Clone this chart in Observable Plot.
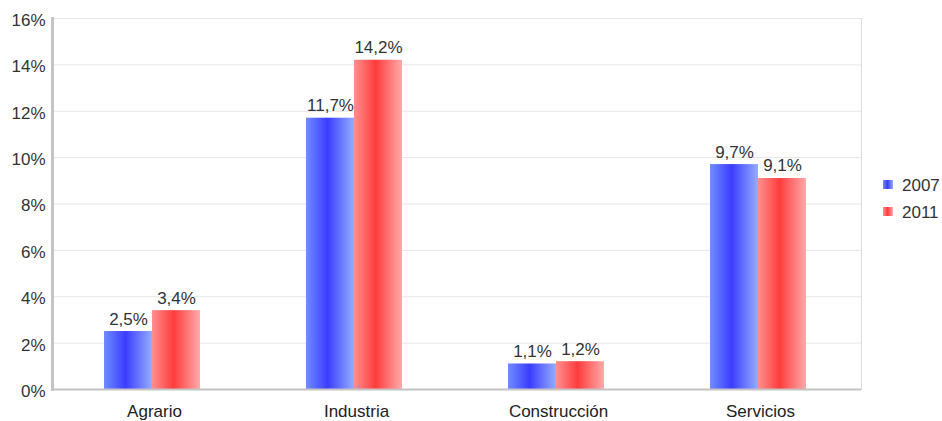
<!DOCTYPE html>
<html>
<head>
<meta charset="utf-8">
<script src="https://cdn.jsdelivr.net/npm/d3@7"></script>
<script src="https://cdn.jsdelivr.net/npm/@observablehq/plot@0.6"></script>
<style>
  html, body { margin: 0; padding: 0; background: #fff; }
  #chart { position: relative; width: 942px; height: 421px; }
</style>
</head>
<body>
<div id="chart"></div>
<script>
const categories = ["Agrario", "Industria", "Construcción", "Servicios"];
const years = ["2007", "2011"];
const values2007 = [2.5, 11.7, 1.1, 9.7];
const values2011 = [3.4, 14.2, 1.2, 9.1];
const yTicks = [0, 2, 4, 6, 8, 10, 12, 14, 16];

const gradIds = {"2007": "grad2007", "2011": "grad2011"};
const rows = [];
categories.forEach((c, i) => {
  rows.push({category: c, year: "2007", value: values2007[i]});
  rows.push({category: c, year: "2011", value: values2011[i]});
});
const fmt = v => String(v.toFixed(1)).replace(".", ",") + "%";
const r07 = rows.filter(d => d.year === "2007");
const r11 = rows.filter(d => d.year === "2011");

const chart = Plot.plot({
  width: 942,
  height: 421,
  marginLeft: 52,
  marginRight: 81,
  marginTop: 18,
  marginBottom: 32,
  style: {fontFamily: "'Liberation Sans', Arial, sans-serif", fontSize: "17px", color: "#333", background: "#fff"},
  x: {domain: categories, paddingInner: 0, paddingOuter: 0, label: null},
  y: {domain: [0, 16], label: null},
  marks: [
    Plot.gridY(yTicks.filter(t => t > 0), {stroke: "#e6e6e6", strokeOpacity: 1}),
    Plot.frame({anchor: "right", stroke: "#dddddd"}),
    Plot.barY(r07, {x: "category", y: "value", fill: "url(#grad2007)", insetLeft: 51, insetRight: 103}),
    Plot.barY(r11, {x: "category", y: "value", fill: "url(#grad2011)", insetLeft: 99, insetRight: 55}),
    Plot.text(r07, {x: "category", y: "value", text: d => fmt(d.value), dx: -26, dy: -7, lineAnchor: "bottom", fill: "#333", fontSize: 17}),
    Plot.text(r11, {x: "category", y: "value", text: d => fmt(d.value), dx: 22, dy: -7, lineAnchor: "bottom", fill: "#333", fontSize: 17}),
    Plot.ruleY([0], {stroke: "#c4c4c4", strokeWidth: 2}),
    Plot.frame({anchor: "left", stroke: "#c4c4c4", strokeWidth: 3}),
    Plot.axisY({ticks: yTicks, tickFormat: d => d + "%", tickSize: 0, tickPadding: 7, dy: 2, fill: "#333", label: null, fontSize: 17}),
    Plot.axisX({tickSize: 0, tickPadding: 15, fill: "#222", label: null, fontSize: 17})
  ]
});

document.getElementById("chart").appendChild(chart);

const svg = d3.select(chart);
const defs = svg.insert("defs", ":first-child");
function grad(id, stops) {
  const g = defs.append("linearGradient").attr("id", id)
    .attr("x1", "0").attr("x2", "1").attr("y1", "0").attr("y2", "0");
  stops.forEach(([o, c]) => g.append("stop").attr("offset", o).attr("stop-color", c));
}
grad("grad2007", [[0, "#6f8dff"], [0.45, "#3c3cff"], [1, "#93adff"]]);
grad("grad2011", [[0, "#ff8f8f"], [0.45, "#ff3c3c"], [1, "#ffaaaa"]]);

// legend
const leg = svg.append("g").attr("font-size", 17).attr("fill", "#333").attr("text-anchor", "start");
years.forEach((y, i) => {
  const yy = 185 + i * 27;
  leg.append("rect").attr("x", 883).attr("y", yy - 5).attr("width", 10).attr("height", 9)
    .attr("fill", `url(#${gradIds[y]})`);
  leg.append("text").attr("x", 902).attr("y", yy).attr("dy", "0.35em").attr("text-anchor", "start").text(y);
});
</script>
</body>
</html>
